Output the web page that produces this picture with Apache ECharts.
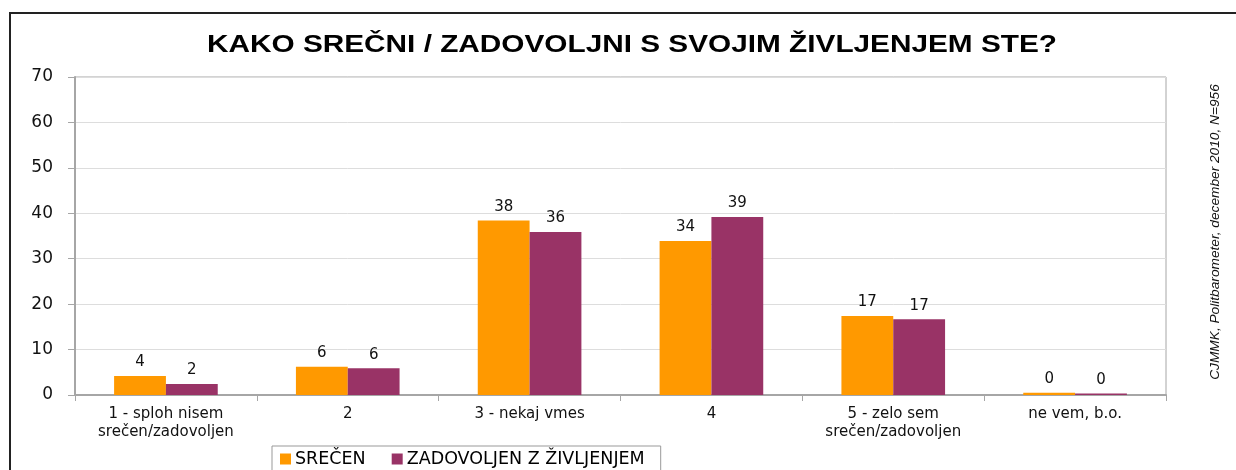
<!DOCTYPE html>
<html>
<head>
<meta charset="utf-8">
<script src="https://cdn.jsdelivr.net/npm/echarts@6/dist/echarts.min.js"></script>
<style>
  html, body { margin: 0; padding: 0; background: #fff; }
  #chart { width: 1236px; height: 470px; }
</style>
</head>
<body>
<div id="chart"></div>
<script>
const categories = ['1 - sploh nisem\nsrečen/zadovoljen', '2', '3 - nekaj vmes', '4', '5 - zelo sem\nsrečen/zadovoljen', 'ne vem, b.o.']
const srecen = [4.2, 6.2, 38.4, 33.9, 17.4, 0.49]
const zadovoljen = [2.4, 5.9, 35.9, 39.2, 16.7, 0.35]
const seriesNames = ['SREČEN', 'ZADOVOLJEN Z ŽIVLJENJEM']
const yTicks = { min: 0, max: 70, interval: 10 }

const font = 'DejaVu Sans, Arial, sans-serif'
const arial = 'Liberation Sans, Arial, sans-serif'
const label = {
  show: true,
  position: 'top',
  distance: 6,
  color: '#111',
  fontFamily: font,
  fontSize: 15,
  formatter: p => Math.round(p.value)
}

const chart = echarts.init(document.getElementById('chart'))
chart.setOption({
  animation: false,
  color: ['#ff9900', '#993366'],
  legend: {
    data: seriesNames,
    left: 272,
    top: 446,
    padding: [4, 16, 6, 8],
    itemGap: 26,
    itemWidth: 11,
    itemHeight: 11,
    icon: 'rect',
    borderColor: '#999',
    borderWidth: 1,
    textStyle: { fontFamily: font, fontSize: 17.5, color: '#000', padding: [0, 0, 0, -1] }
  },
  grid: {
    left: 75,
    right: 70,
    top: 77,
    bottom: 75,
    show: true,
    borderColor: '#a6a6a6',
    borderWidth: 1
  },
  xAxis: {
    type: 'category',
    data: categories,
    axisLine: { lineStyle: { color: '#a6a6a6', width: 2 } },
    axisTick: { show: true, length: 6, lineStyle: { color: '#a6a6a6' } },
    axisLabel: { fontFamily: font, fontSize: 15, color: '#111', lineHeight: 18, margin: 10 }
  },
  yAxis: {
    type: 'value',
    min: yTicks.min,
    max: yTicks.max,
    interval: yTicks.interval,
    axisLine: { show: true, lineStyle: { color: '#a6a6a6', width: 2 } },
    axisTick: { show: true, length: 7, lineStyle: { color: '#a6a6a6' } },
    axisLabel: { fontFamily: font, fontSize: 17, color: '#111', margin: 22 },
    splitLine: { lineStyle: { color: '#dddddd' } }
  },
  series: [
    { name: seriesNames[0], type: 'bar', data: srecen, barGap: '0%', barCategoryGap: '43%', label },
    { name: seriesNames[1], type: 'bar', data: zadovoljen, barGap: '0%', barCategoryGap: '43%', label }
  ],
  graphic: [
    {
      type: 'rect',
      shape: { x: 10, y: 13, width: 1300, height: 600 },
      style: { fill: 'none', stroke: '#222', lineWidth: 2 },
      silent: true
    },
    {
      // title is drawn a bit stretched, like the original
      type: 'text',
      x: 632,
      y: 45,
      scaleX: 1.24,
      style: {
        text: 'KAKO SREČNI / ZADOVOLJNI S SVOJIM ŽIVLJENJEM STE?',
        fontFamily: arial,
        fontSize: 24,
        fontWeight: 'bold',
        fill: '#000',
        align: 'center',
        verticalAlign: 'middle'
      }
    },
    {
      type: 'text',
      x: 1215,
      y: 232,
      rotation: Math.PI / 2,
      style: {
        text: 'CJMMK, Politbarometer, december 2010, N=956',
        fontFamily: arial,
        fontSize: 13.7,
        fontStyle: 'italic',
        fill: '#111',
        align: 'center',
        verticalAlign: 'middle'
      }
    }
  ]
})
</script>
</body>
</html>
